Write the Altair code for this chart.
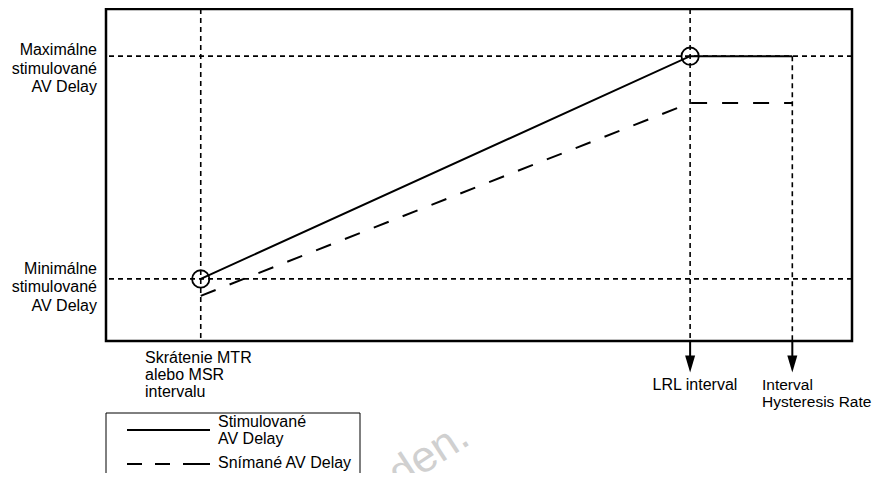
import altair as alt
import pandas as pd

FONT = "Liberation Sans"
FS = 16

# Conceptual values (arbitrary units on 0-100 scales)
interval_names = ["MTR/MSR", "LRL", "Hysteresis"]
interval_x = [12.7, 78.3, 92.0]          # rate intervals (x)
paced_av = [18.7, 85.8, 85.8]            # paced AV delay (y)
sensed_av = [13.6, 71.7, 71.7]           # sensed AV delay (y)
av_levels = [18.7, 85.8]                 # min / max paced AV delay
grid_top = [100, 100, 85.8]              # where each vertical guide starts

df = pd.DataFrame({
    "name": interval_names,
    "x": interval_x,
    "paced": paced_av,
    "sensed": sensed_av,
    "top": grid_top,
    "order": [0, 1, 2],
})

xs = alt.Scale(domain=[0, 100])
ys = alt.Scale(domain=[0, 100])


def X(f="x:Q"):
    return alt.X(f, scale=xs, axis=None)


def Y(f):
    return alt.Y(f, scale=ys, axis=None)


base = alt.Chart(df)
one = pd.DataFrame({"a": [0]})

# horizontal dotted guides
hgrid = alt.Chart(pd.DataFrame({"y": av_levels})).mark_rule(
    strokeDash=[5, 4], strokeWidth=1.6, color="black"
).encode(y=Y("y:Q"))

# vertical dotted guides
vgrid = base.mark_rule(strokeDash=[5, 4], strokeWidth=1.6, color="black").encode(
    x=X(), y=Y("top:Q"), y2=alt.Y2(datum=0)
)

paced = base.mark_line(color="black", strokeWidth=2).encode(
    x=X(), y=Y("paced:Q"), order="order:Q"
)
sensed = base.mark_line(color="black", strokeWidth=2, strokeDash=[16, 15]).encode(
    x=X(), y=Y("sensed:Q"), order="order:Q"
)
circles = base.transform_filter("datum.order < 2").mark_point(
    shape="circle", size=300, filled=False, color="black", strokeWidth=1.8, opacity=1
).encode(x=X(), y=Y("paced:Q"))

# arrows below the plot
stems = base.transform_filter("datum.order > 0").mark_rule(
    color="black", strokeWidth=2
).encode(x=X(), y=alt.Y(datum=0, scale=ys, axis=None), y2=alt.value(347))
heads = base.transform_filter("datum.order > 0").mark_point(
    shape="M-0.59,-1L0.59,-1L0,1Z", size=289, filled=True, color="black", opacity=1
).encode(x=X(), y=alt.value(355))


def ylab(text, level, dy):
    return alt.Chart(one).mark_text(
        font=FONT, fontSize=FS, align="right", baseline="alphabetic", lineBreak="\n",
        lineHeight=18.5, dy=dy, color="black"
    ).encode(x=alt.value(-9), y=alt.Y(datum=level, scale=ys, axis=None),
             text=alt.value(text))


lbl_max = ylab("Maximálne\nstimulované\nAV Delay", av_levels[1], -1)
lbl_min = ylab("Minimálne\nstimulované\nAV Delay", av_levels[0], -5)


def txt(text, x, y, align="left", lh=17, fs=FS):
    return alt.Chart(one).mark_text(
        font=FONT, fontSize=fs, align=align, baseline="alphabetic", lineBreak="\n",
        lineHeight=lh, color="black"
    ).encode(x=alt.value(x), y=alt.value(y), text=alt.value(text))


lbl_mtr = txt("Skrátenie MTR\nalebo MSR\nintervalu", 39, 354, lh=17)
lbl_lrl = txt("LRL interval", 589, 381, align="center")
lbl_hys = txt("Interval\nHysteresis Rate", 656, 381, lh=16.5, fs=15.5)

# faint watermark (mostly hidden by the legend box / page edge)
wm = alt.Chart(one).mark_text(
    font=FONT, fontSize=44, angle=327, color="#d0d0d0", align="right", baseline="alphabetic"
).encode(x=alt.value(366), y=alt.value(434), text=alt.value("verwenden."))

# legend
leg_box = alt.Chart(one).mark_rect(fill="white", stroke="black", strokeWidth=1).encode(
    x=alt.value(0), x2=alt.value(254), y=alt.value(404), y2=alt.value(480)
)
leg_solid = alt.Chart(one).mark_rule(color="black", strokeWidth=2).encode(
    x=alt.value(21), x2=alt.value(104), y=alt.value(421)
)
leg_dash = alt.Chart(one).mark_rule(color="black", strokeWidth=2, strokeDash=[15, 13, 15, 13, 27]).encode(
    x=alt.value(21), x2=alt.value(104), y=alt.value(455)
)
leg_t1 = txt("Stimulované\nAV Delay", 112, 418, lh=17)
leg_t2 = txt("Snímané AV Delay", 112, 459)

chart = alt.layer(
    wm, hgrid, vgrid, paced, sensed, circles, stems, heads,
    lbl_max, lbl_min, lbl_mtr, lbl_lrl, lbl_hys,
    leg_box, leg_solid, leg_dash, leg_t1, leg_t2,
).properties(
    width=746, height=332,
    padding={"left": 98, "top": 1, "right": 22, "bottom": 132},
    autosize=alt.AutoSizeParams(type="none"),
).configure_view(stroke="black", strokeWidth=2.5)

chart.save("out.html", embed_options={"renderer": "svg", "actions": False})
